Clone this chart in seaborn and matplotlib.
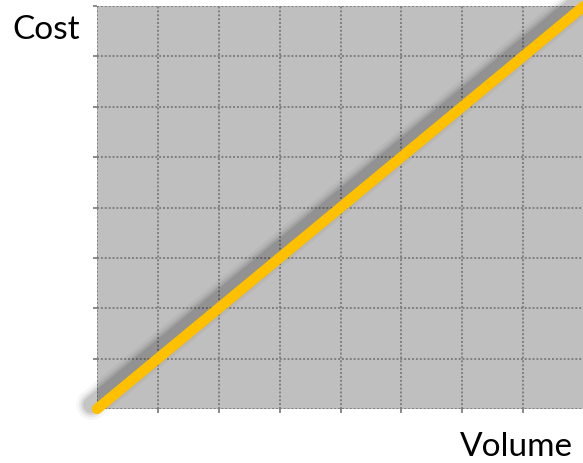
import matplotlib
matplotlib.use("Agg")
import matplotlib.pyplot as plt
import matplotlib.patheffects as pe
import seaborn as sns
import pandas as pd

# Linear cost-volume relationship
volume = [0, 8]
cost = [0, 8]
grid_steps = list(range(0, 9))

sns.set_theme(style="white")
plt.rcParams["font.family"] = ["Lato", "DejaVu Sans"]

W, H, DPI = 583, 463, 100
fig = plt.figure(figsize=(W / DPI, H / DPI), dpi=DPI)
ax = fig.add_axes([97 / W, (H - 409) / H, (584 - 97) / W, (409 - 6) / H])
ax.set_facecolor("#BFBFBF")

df = pd.DataFrame({"Volume": volume, "Cost": cost})

# soft shadow built from stacked translucent strokes
shadow = []
for lw, a in [(22, 0.035), (18, 0.05), (15, 0.07), (12, 0.09)]:
    shadow.append(pe.Stroke(linewidth=lw, foreground="black", alpha=a, offset=(-4, 3)))
shadow.append(pe.Normal())

sns.lineplot(data=df, x="Volume", y="Cost", ax=ax, color="#FFC000",
             linewidth=7.5, solid_capstyle="round", clip_on=False,
             path_effects=shadow, zorder=5)

ax.set_xlim(0, 8)
ax.set_ylim(0, 8)
ax.set_xticks(grid_steps)
ax.set_yticks(grid_steps)
ax.set_xticklabels([])
ax.set_yticklabels([])
ax.grid(True, color="#7F7F7F", linestyle=(0, (1, 1)), linewidth=1.4, zorder=1)
ax.set_axisbelow(True)
ax.tick_params(axis="both", length=3, width=1.4, color="#8A8A8A", direction="out",
               bottom=True, left=True)
for s in ax.spines.values():
    s.set_visible(False)
ax.set_xlabel("")
ax.set_ylabel("")

fig.text(12 / W, 1 - 30 / H, "Cost", fontsize=24, color="black", va="center", ha="left")
fig.text(573 / W, 1 - 447 / H, "Volume", fontsize=24, color="black", va="center", ha="right")

fig.savefig("out.png", dpi=DPI)
